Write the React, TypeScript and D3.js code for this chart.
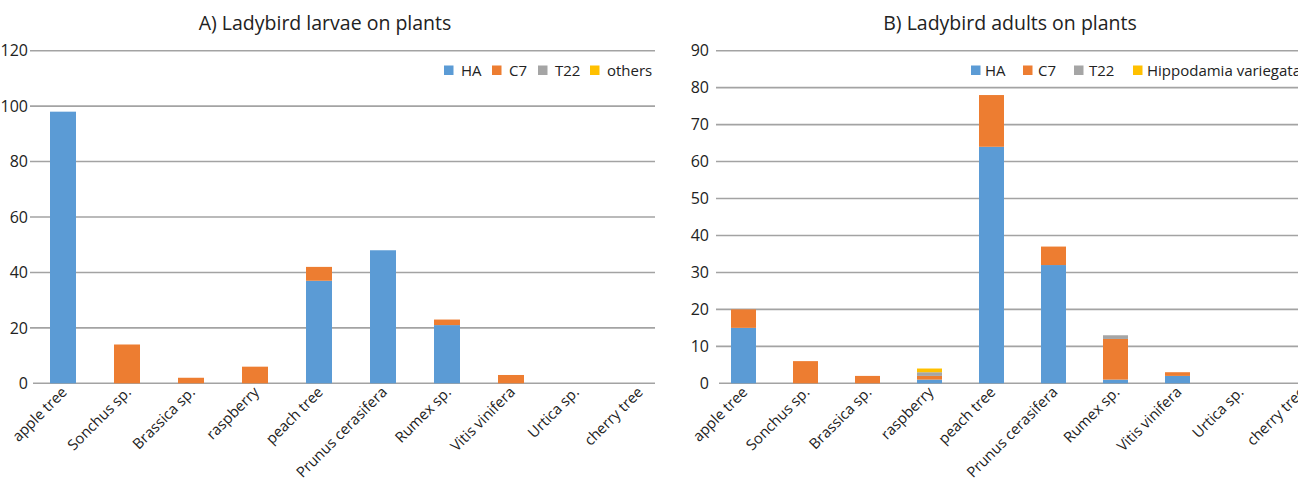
import React from "react";
import * as d3 from "d3";

const categories = ["apple tree", "Sonchus sp.", "Brassica sp.", "raspberry", "peach tree", "Prunus cerasifera", "Rumex sp.", "Vitis vinifera", "Urtica sp.", "cherry tree"];

// A) larvae
const larvaeHA = [98, 0, 0, 0, 37, 48, 21, 0, 0, 0];
const larvaeC7 = [0, 14, 2, 6, 5, 0, 2, 3, 0, 0];
const larvaeT22 = [0, 0, 0, 0, 0, 0, 0, 0, 0, 0];
const larvaeOthers = [0, 0, 0, 0, 0, 0, 0, 0, 0, 0];
const larvaeTicks = [0, 20, 40, 60, 80, 100, 120];

// B) adults
const adultsHA = [15, 0, 0, 1, 64, 32, 1, 2, 0, 0];
const adultsC7 = [5, 6, 2, 1, 14, 5, 11, 1, 0, 0];
const adultsT22 = [0, 0, 0, 1, 0, 0, 1, 0, 0, 0];
const adultsHipp = [0, 0, 0, 1, 0, 0, 0, 0, 0, 0];
const adultsTicks = [0, 10, 20, 30, 40, 50, 60, 70, 80, 90];

const seriesColors = ["#5b9bd5", "#ed7d31", "#a5a5a5", "#ffc000"];
const legendA = ["HA", "C7", "T22", "others"];
const legendB = ["HA", "C7", "T22", "Hippodamia variegata"];

const FONT = "'Open Sans', 'Noto Sans', sans-serif";

type PanelProps = {
  title: string;
  titleX: number;
  series: number[][];
  names: string[];
  ticks: number[];
  yMax: number;
  xRange: [number, number];
  padding: number;
  gridX0: number;
  gridX1: number;
  labelX: number;
  legendXs: number[];
  legendTextXs: number[];
};

function Panel(p: PanelProps) {
  const y = d3.scaleLinear().domain([0, p.yMax]).range([383.3, 50.7]);
  const x = d3.scaleBand<string>().domain(categories).range(p.xRange).paddingInner(p.padding).paddingOuter(p.padding / 2);
  const rows = categories.map((c, i) => {
    const r: any = { cat: c };
    p.names.forEach((n, k) => (r[n] = p.series[k][i]));
    return r;
  });
  const stacked = d3.stack<any>().keys(p.names)(rows);
  return (
    <g>
      <text x={p.titleX} y={30} textAnchor="middle" fontSize={19.5} fill="#222" fontFamily={FONT}>{p.title}</text>
      {p.ticks.map((t) => (
        <g key={t}>
          <line x1={t === 0 ? p.gridX0 + 3 : p.gridX0} x2={p.gridX1} y1={y(t)} y2={y(t)} stroke="#a3a3a3" strokeWidth={1.6} />
          <text x={p.labelX} y={y(t)} dy="0.36em" textAnchor="end" fontSize={16} fill="#222" fontFamily={FONT}>{t}</text>
        </g>
      ))}
      {stacked.map((s, k) => (
        <g key={k} fill={seriesColors[k]}>
          {s.map((d, i) =>
            d[1] - d[0] > 0 ? (
              <rect key={i} x={x(categories[i])} width={x.bandwidth()} y={y(d[1])} height={y(d[0]) - y(d[1])} />
            ) : null
          )}
        </g>
      ))}
      {categories.map((c) => {
        const cx = (x(c) as number) + x.bandwidth() / 2;
        return (
          <text key={c} transform={`translate(${cx + 5},${393}) rotate(-45)`} textAnchor="end" fontSize={14.8} fill="#222" fontFamily={FONT}>
            {c}
          </text>
        );
      })}
      {p.names.map((n, k) => (
        <g key={n}>
          <rect x={p.legendXs[k]} y={65.5} width={9.5} height={9.5} fill={seriesColors[k]} />
          <text x={p.legendTextXs[k]} y={75.5} fontSize={15} fill="#222" fontFamily={FONT}>{n}</text>
        </g>
      ))}
    </g>
  );
}

export default function App() {
  return (
    <svg width={1298} height={480} style={{ position: "absolute", left: 0, top: 0, background: "#fff" }}>
      <rect width={1298} height={480} fill="#fff" />
      <Panel
        title="A) Ladybird larvae on plants"
        titleX={325}
        series={[larvaeHA, larvaeC7, larvaeT22, larvaeOthers]}
        names={legendA}
        ticks={larvaeTicks}
        yMax={120}
        xRange={[31, 671]}
        padding={0.594}
        gridX0={30}
        gridX1={655}
        labelX={28}
        legendXs={[444, 492, 538, 590]}
        legendTextXs={[461, 509, 555, 607]}
      />
      <Panel
        title="B) Ladybird adults on plants"
        titleX={1010}
        series={[adultsHA, adultsC7, adultsT22, adultsHipp]}
        names={legendB}
        ticks={adultsTicks}
        yMax={90}
        xRange={[712.5, 1332.5]}
        padding={0.597}
        gridX0={716}
        gridX1={1298}
        labelX={709}
        legendXs={[971, 1023, 1074, 1133]}
        legendTextXs={[985, 1038, 1089, 1147]}
      />
    </svg>
  );
}
